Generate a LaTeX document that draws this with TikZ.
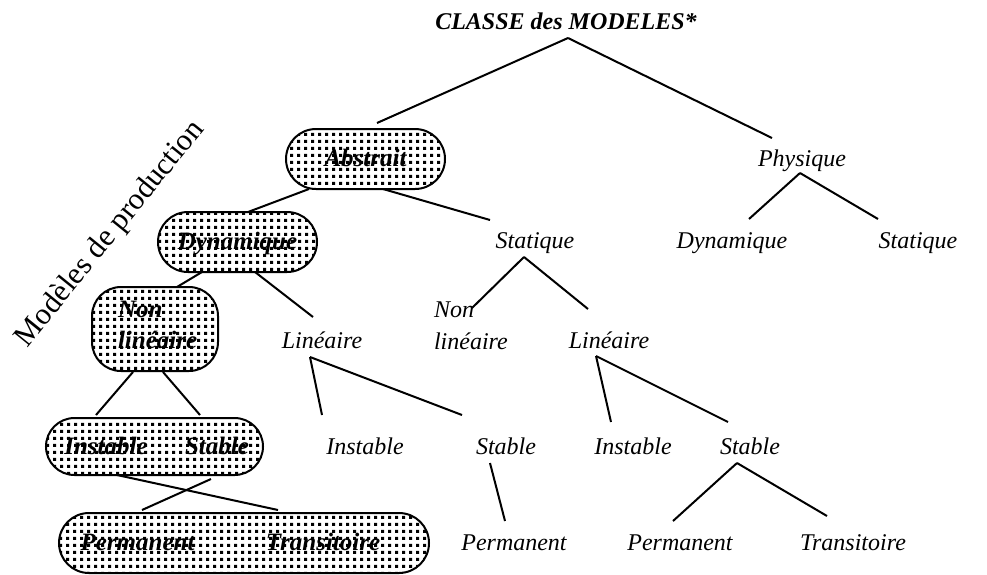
\documentclass[tikz,border=0pt]{standalone}
\usepackage{fontspec}
\setmainfont{Liberation Serif}
\usetikzlibrary{calc,patterns}
\pgfdeclarepatternformonly{sqdots}{\pgfpointorigin}{\pgfpoint{6.6pt}{6.6pt}}{\pgfpoint{6.6pt}{6.6pt}}{%
  \pgfpathrectangle{\pgfpointorigin}{\pgfpoint{3.2pt}{3.2pt}}\pgfusepath{fill}}
\newcommand\conn[4]{\draw ($(#1)+(#2)$) -- ($(#3)+(#4)$);}
\begin{document}
\begin{tikzpicture}[x=1pt,y=-1pt,
  line width=2pt,
  txt/.style={inner sep=0pt,anchor=base,font=\fontsize{24}{28}\selectfont\itshape},
  ttl/.style={inner sep=0pt,anchor=base,font=\fontsize{24}{28}\selectfont\bfseries\itshape},
  ptxt/.style={inner sep=0pt,anchor=base,font=\fontsize{25}{29}\selectfont\bfseries\itshape},
  pill/.style={draw,line width=2pt,pattern=sqdots,inner sep=0pt}
]
\useasboundingbox (0,0) rectangle (987,574);

% title and plain texts
\node[ttl] (root) at (566,29) {CLASSE des MODELES*};
\node[txt] (phy) at (802,166) {Physique};
\node[txt] (dynR) at (732,248) {Dynamique};
\node[txt] (statR) at (918,248) {Statique};
\node[txt] (statM) at (535,248) {Statique};
\node[txt,anchor=base west] (nlMa) at (433,317) {Non};
\node[txt,anchor=base west] (nlMb) at (433,349) {linéaire};
\node[txt] (linM) at (322,348) {Linéaire};
\node[txt] (linR) at (609,348) {Linéaire};
\node[txt] (instM) at (365,454) {Instable};
\node[txt] (stabM) at (506,454) {Stable};
\node[txt] (permM) at (514,550) {Permanent};
\node[txt] (instR) at (633,454) {Instable};
\node[txt] (stabR) at (750,454) {Stable};
\node[txt] (permR) at (680,550) {Permanent};
\node[txt] (trans) at (853,550) {Transitoire};

% pills
\node[pill,minimum width=159pt,minimum height=60pt,rounded corners=30pt] (abs) at (365.5,159) {};
\node[ptxt] (absT) at (365.5,166) {Abstrait};
\node[pill,minimum width=159pt,minimum height=60pt,rounded corners=30pt] (dyn) at (237.5,242) {};
\node[ptxt] (dynT) at (237.5,249) {Dynamique};
\node[pill,minimum width=126pt,minimum height=84pt,rounded corners=29pt] (nl) at (155,329) {};
\node[ptxt,anchor=base west] (nlTa) at (117,317) {Non};
\node[ptxt,anchor=base west] (nlTb) at (117,348) {linéaire};
\node[pill,minimum width=217pt,minimum height=57pt,rounded corners=28.5pt] (is) at (154.5,446.5) {};
\node[ptxt] (isT1) at (106,454) {Instable};
\node[ptxt] (isT2) at (217,454) {Stable};
\node[pill,minimum width=370pt,minimum height=60pt,rounded corners=30pt] (pt) at (244,543) {};
\node[ptxt] (ptT1) at (137.5,550) {Permanent};
\node[ptxt] (ptT2) at (323,550) {Transitoire};

% rotated label
\node[inner sep=0pt,rotate=51,anchor=base west,font=\fontsize{30.5}{35}\selectfont] (prod) at (27,349) {Modèles de production};

% connectors
\conn{root.base}{2,9}{abs.center}{11.5,-36}
\conn{root.base}{2,9}{phy.base}{-30,-28}
\conn{phy.base}{-2,7}{dynR.base}{17,-29}
\conn{phy.base}{-2,7}{statR.base}{-40,-29}
\conn{abs.center}{-56.5,30}{dyn.center}{10.5,-30}
\conn{abs.center}{17.5,30}{statM.base}{-45,-28}
\conn{statM.base}{-11,9}{nlMa.base west}{39,-9}
\conn{statM.base}{-11,9}{linR.base}{-21,-39}
\conn{dyn.center}{-35.5,30}{nl.center}{22,-42}
\conn{dyn.center}{17.5,30}{linM.base}{-9,-31}
\conn{linM.base}{-12,9}{instM.base}{-43,-39}
\conn{linM.base}{-12,9}{stabM.base}{-44,-39}
\conn{linR.base}{-13,8}{instR.base}{-22,-32}
\conn{linR.base}{-13,8}{stabR.base}{-22,-32}
\conn{stabM.base}{-16,9}{permM.base}{-9,-29}
\conn{stabR.base}{-13,9}{permR.base}{-7,-29}
\conn{stabR.base}{-13,9}{trans.base}{-26,-34}
\conn{nl.center}{-22,43}{is.center}{-58.5,-31.5}
\conn{nl.center}{8,43}{is.center}{45.5,-31.5}
\conn{is.center}{-37.5,28.5}{pt.center}{34,-33}
\conn{is.center}{56.5,32.5}{pt.center}{-102,-33}
\end{tikzpicture}
\end{document}
